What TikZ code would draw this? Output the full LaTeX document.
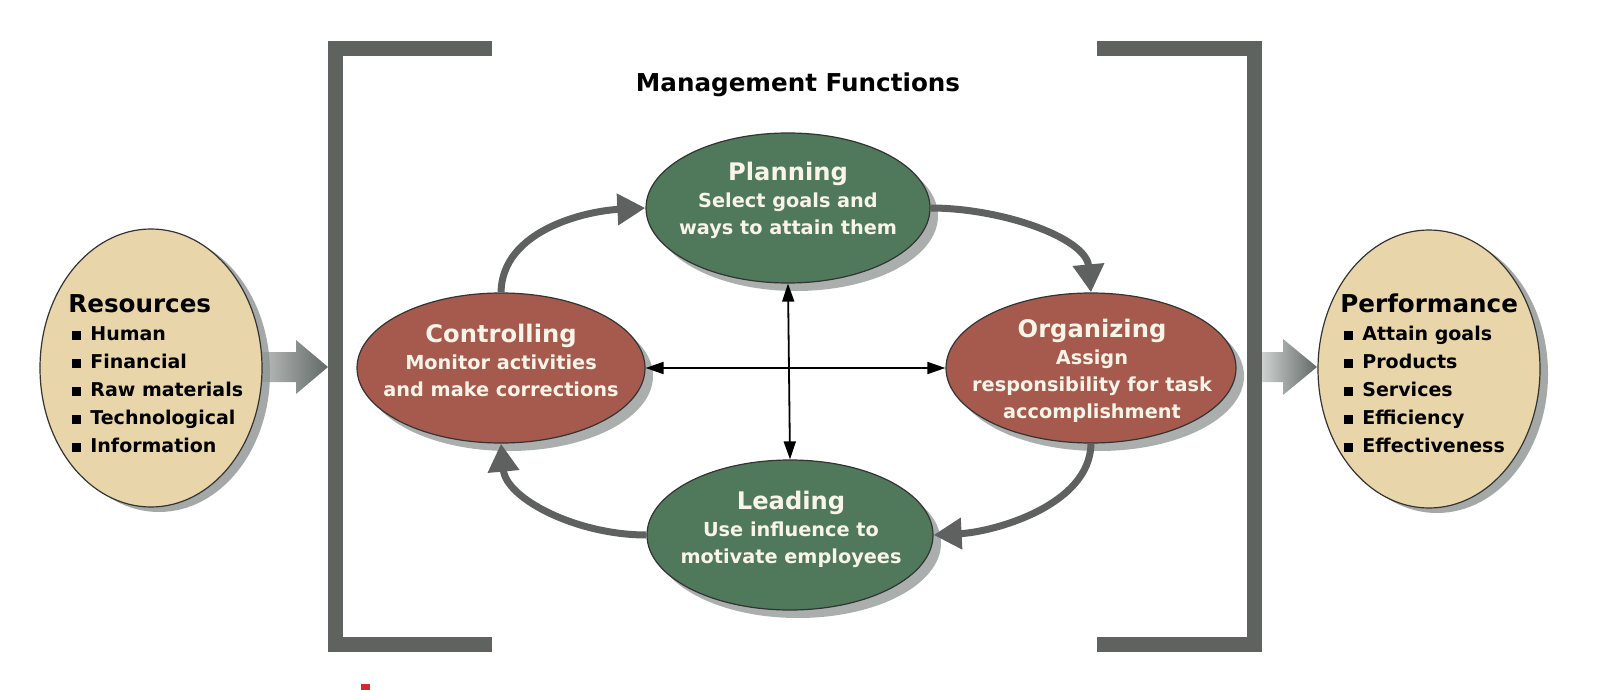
\documentclass[tikz,border=0pt]{standalone}
\usepackage{fontspec}
\setmainfont{DejaVu Sans}
\usetikzlibrary{shapes.geometric,shadows,arrows.meta}
\definecolor{grn}{HTML}{50785A}
\definecolor{brn}{HTML}{A65A4E}
\definecolor{bge}{HTML}{E8D6AA}
\definecolor{brk}{HTML}{5F6360}
\definecolor{flw}{HTML}{5E615F}
\definecolor{crm}{HTML}{F8F4E8}
\definecolor{shd}{HTML}{8E9491}
\definecolor{edgec}{HTML}{333333}
\definecolor{redm}{HTML}{D8262E}
\definecolor{arrL}{HTML}{CDD2D1}
\definecolor{arrR}{HTML}{626866}
\newcommand\mybody{\fontsize{9.65pt}{13.5pt}\selectfont\bfseries}
\newcommand\myhead{\fontsize{12.1pt}{13.5pt}\selectfont\bfseries}
\newcommand\myitems{\fontsize{9.5pt}{14pt}\selectfont\bfseries}
\newcommand\myshead{\fontsize{12.3pt}{14pt}\selectfont\bfseries}
\newcommand\mytitle{\fontsize{12.3pt}{14pt}\selectfont\bfseries}
\newcommand\itm{\hspace*{2pt}\rule[0.35pt]{4.5pt}{4.5pt}\hspace*{4.5pt}}
\begin{document}
\begin{tikzpicture}[x=0.5pt,y=-0.5pt,
  func/.style={ellipse, draw=edgec, line width=0.6pt, inner sep=0pt,
     drop shadow={shadow xshift=4pt, shadow yshift=-4pt, fill=shd, opacity=0.75}},
  side/.style={ellipse, draw=edgec, line width=0.6pt, fill=bge, inner sep=0pt,
     minimum width=111pt, minimum height=139pt,
     drop shadow={shadow xshift=4pt, shadow yshift=-2.5pt, fill=shd, opacity=0.8}},
  ftext/.style={anchor=north, inner sep=0pt, align=center, text=crm, font=\mybody},
  stext/.style={anchor=north west, inner sep=0pt, align=left, text=black, font=\myitems},
  flow/.style={draw=flw, line width=3.5pt, -{Triangle[length=14pt,width=15pt]}},
  cross/.style={draw=black, line width=0.9pt, {Triangle[length=9pt,width=6pt]}-{Triangle[length=9pt,width=6pt]}},
  bracket/.style={draw=brk, line width=7.5pt, line join=miter, line cap=butt}
]
\fill[white] (0,0) rectangle (1616,690);
\useasboundingbox (0,0) rectangle (1616,690);

% brackets
\draw[bracket] (492,48.25) -- (335.5,48.25) -- (335.5,644.5) -- (492,644.5);
\draw[bracket] (1097,48.25) -- (1254.5,48.25) -- (1254.5,644.5) -- (1097,644.5);

% block arrows
\shade[left color=arrL, right color=arrR] (245,352) -- (296,352) -- (296,340) -- (328,367) -- (296,394) -- (296,382) -- (245,382) -- cycle;
\shade[left color=arrL, right color=arrR] (1262,352) -- (1283,352) -- (1283,339) -- (1317,367) -- (1283,395) -- (1283,382) -- (1262,382) -- cycle;

% side ellipses
\node[side] (res) at (151,368) {};
\node[side] (perf) at (1429,369) {};
\node[stext] (res-t) at (68,292) {{\myshead\rule{0pt}{10pt}Resources}\\\itm Human\\\itm Financial\\\itm Raw materials\\\itm Technological\\\itm Information};
\node[stext] (perf-t) at (1340,292) {{\myshead\rule{0pt}{10pt}Performance}\\\itm Attain goals\\\itm Products\\\itm Services\\\itm Efficiency\\\itm Effectiveness};

% title
\node[anchor=base, font=\mytitle, inner sep=0pt] (title) at (798,91) {Management Functions};

% function ellipses
\node[func, fill=grn, minimum width=142pt, minimum height=75pt] (plan) at (788,208) {};
\node[func, fill=brn, minimum width=144pt, minimum height=75pt] (ctrl) at (501,368) {};
\node[func, fill=brn, minimum width=145pt, minimum height=75pt] (org) at (1091,368) {};
\node[func, fill=grn, minimum width=143pt, minimum height=75pt] (lead) at (790,535) {};

\node[ftext] (plan-t) at (788,160.5) {{\myhead\rule{0pt}{10pt}Planning}\\Select goals and\\ways to attain them};
\node[ftext] (ctrl-t) at (501,322) {{\myhead\rule{0pt}{10pt}Controlling}\\Monitor activities\\and make corrections};
\node[ftext] (org-t) at (1092,317) {{\myhead\rule{0pt}{10pt}Organizing}\\Assign\\responsibility for task\\accomplishment};
\node[ftext] (lead-t) at (791,489) {{\myhead\rule{0pt}{10pt}Leading}\\Use influence to\\motivate employees};

% cycle arrows
\draw[flow] (ctrl.north) .. controls +(1,-62) and +(-60,3) .. (plan.west);
\draw[flow] (plan.east) .. controls +(70,0) and +(-5,-55) .. (org.north);
\draw[flow] (org.south) .. controls +(-1,62) and +(60,-3) .. (lead.east);
\draw[flow] (lead.west) .. controls +(-70,0) and +(5,55) .. (ctrl.south);

% cross arrows
\draw[cross] (plan.south) -- (lead.north);
\draw[cross] (ctrl.east) -- (org.west);

% red mark
\fill[redm] (361,684) rectangle (370,690);
\end{tikzpicture}
\end{document}
